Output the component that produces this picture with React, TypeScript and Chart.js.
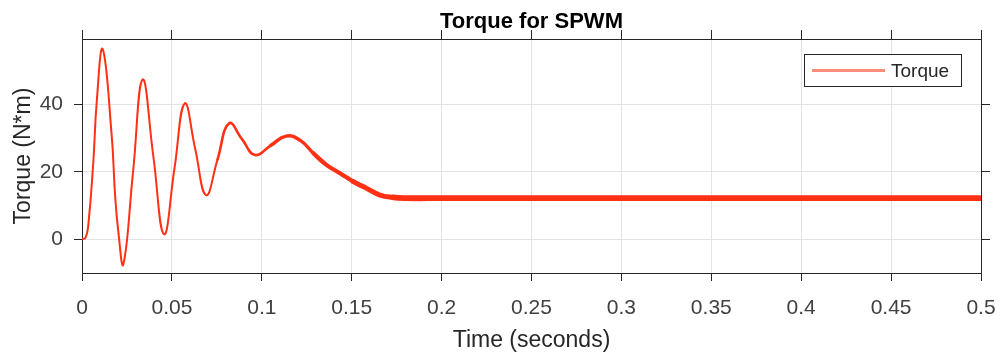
import React, { useEffect, useRef } from 'react';
import { Chart, registerables } from 'chart.js';

Chart.register(...registerables);

// ---- data ----
const timeS: number[] = [
  0, 0.002, 0.0035, 0.0063, 0.0082, 0.0115, 0.0165, 0.0184, 0.0202, 0.023,
  0.0284, 0.0337, 0.0397, 0.0456, 0.0514, 0.0571, 0.063, 0.069, 0.0754, 0.0818,
  0.089, 0.0962, 0.1049, 0.1135, 0.1212, 0.1287, 0.1361, 0.1435, 0.1509, 0.1583,
  0.1657, 0.1731, 0.18, 0.2, 0.25, 0.3, 0.35, 0.4, 0.45, 0.5,
];
const torqueNm: number[] = [
  0, 0.5, 4.2, 23, 40.8, 56.4, 30.9, 13.1, 2.3, -7.4,
  20, 47.4, 24.5, 1.5, 20.9, 40.3, 26.7, 13.1, 23.7, 34.4,
  29.7, 25.0, 27.8, 30.6, 29.4, 25.5, 22.0, 19.6, 17.1, 15.1,
  13.1, 12.4, 12.2, 12.2, 12.2, 12.2, 12.2, 12.2, 12.2, 12.2,
];
const xTicks: number[] = [0, 0.05, 0.1, 0.15, 0.2, 0.25, 0.3, 0.35, 0.4, 0.45, 0.5];
const yTicks: number[] = [0, 20, 40];
const titleText = 'Torque for SPWM';
const xLabel = 'Time (seconds)';
const yLabel = 'Torque (N*m)';
const legendLabel = 'Torque';

const FONT = '"Liberation Sans", Arial, Helvetica, sans-serif';
const AXIS = '#262626';
const GRID = '#e3e3e3';
const LINE = 'rgb(255, 48, 20)';

function widthAt(t: number): number {
  if (t < 0.075) return 2;
  if (t < 0.1) return 2.6;
  if (t < 0.125) return 3.4;
  if (t < 0.15) return 4.2;
  if (t < 0.17) return 5;
  return 5.8;
}

const textPlugin = {
  id: 'textPlugin',
  beforeDraw(chart: any) {
    const c = chart.ctx;
    c.save();
    c.fillStyle = '#ffffff';
    c.fillRect(0, 0, chart.width, chart.height);
    c.restore();
  },
  afterDraw(chart: any) {
    const c = chart.ctx as CanvasRenderingContext2D;
    const a = chart.chartArea;
    const cx = (a.left + a.right) / 2;
    c.save();
    // title
    c.fillStyle = '#000000';
    c.font = `bold 22px ${FONT}`;
    c.textAlign = 'center';
    c.textBaseline = 'alphabetic';
    c.fillText(titleText, cx, 28);
    // x label
    c.fillStyle = AXIS;
    c.font = `23px ${FONT}`;
    c.fillText(xLabel, cx, 347);
    // y label
    c.save();
    c.translate(30, (a.top + a.bottom) / 2);
    c.rotate(-Math.PI / 2);
    c.fillText(yLabel, 0, 0);
    c.restore();
    // legend
    c.fillStyle = '#ffffff';
    c.fillRect(804.5, 54.5, 157, 32);
    c.strokeStyle = AXIS;
    c.lineWidth = 1;
    c.strokeRect(804.5, 54.5, 157, 32);
    c.strokeStyle = 'rgb(255, 140, 120)';
    c.lineWidth = 3;
    c.beginPath();
    c.moveTo(812, 70.5);
    c.lineTo(885, 70.5);
    c.stroke();
    c.fillStyle = AXIS;
    c.font = `19px ${FONT}`;
    c.textAlign = 'left';
    c.fillText(legendLabel, 891, 77);
    c.restore();
  },
};

const fmt = (v: number) => String(Number(v.toFixed(2)));

const noPad = (s: any) => {
  s.paddingLeft = 0;
  s.paddingRight = 0;
  s.paddingTop = 0;
  s.paddingBottom = 0;
};

export default function App() {
  const ref = useRef<HTMLCanvasElement>(null);
  useEffect(() => {
    const canvas = ref.current;
    if (!canvas) return;
    const chart = new Chart(canvas, {
      type: 'line',
      data: {
        datasets: [
          {
            label: legendLabel,
            data: timeS.map((t, i) => ({ x: t, y: torqueNm[i] })),
            borderColor: LINE,
            borderWidth: 2,
            pointRadius: 0,
            fill: false,
            tension: 0.45,
            borderCapStyle: 'round',
            borderJoinStyle: 'round',
            segment: {
              borderWidth: (ctx: any) => widthAt(ctx.p0.parsed.x),
            },
          } as any,
        ],
      },
      options: {
        animation: false,
        responsive: false,
        maintainAspectRatio: false,
        layout: { padding: 0 },
        plugins: {
          legend: { display: false },
          title: { display: false },
          tooltip: { enabled: false },
        },
        scales: {
          x: {
            type: 'linear',
            position: 'bottom',
            min: 0,
            max: 0.5,
            afterBuildTicks: (s: any) => {
              s.ticks = xTicks.map((v) => ({ value: v }));
            },
            afterFit: (s: any) => {
              s.height = 82;
              noPad(s);
            },
            ticks: {
              callback: (v: any) => fmt(Number(v)),
              color: '#404040',
              font: { family: FONT, size: 21 },
              padding: 15,
              maxRotation: 0,
              autoSkip: false,
            },
            grid: { color: GRID, tickColor: AXIS, tickLength: 8, lineWidth: 1 },
            border: { color: AXIS, width: 1 },
          },
          x2: {
            type: 'linear',
            position: 'top',
            min: 0,
            max: 0.5,
            afterBuildTicks: (s: any) => {
              s.ticks = xTicks.map((v) => ({ value: v }));
            },
            afterFit: (s: any) => {
              s.height = 39;
              noPad(s);
            },
            ticks: { display: false },
            grid: { drawOnChartArea: false, tickColor: AXIS, tickLength: 9 },
            border: { color: AXIS, width: 1 },
          },
          y: {
            type: 'linear',
            position: 'left',
            min: -10,
            max: 59.4,
            afterBuildTicks: (s: any) => {
              s.ticks = yTicks.map((v) => ({ value: v }));
            },
            afterFit: (s: any) => {
              s.width = 82;
              noPad(s);
            },
            ticks: {
              callback: (v: any) => fmt(Number(v)),
              color: '#404040',
              font: { family: FONT, size: 21 },
              padding: 11,
            },
            grid: { color: GRID, tickColor: AXIS, tickLength: 8, lineWidth: 1 },
            border: { color: AXIS, width: 1 },
          },
          y2: {
            type: 'linear',
            position: 'right',
            min: -10,
            max: 59.4,
            afterBuildTicks: (s: any) => {
              s.ticks = yTicks.map((v) => ({ value: v }));
            },
            afterFit: (s: any) => {
              s.width = 22;
              noPad(s);
            },
            ticks: { display: false },
            grid: { drawOnChartArea: false, tickColor: AXIS, tickLength: 9 },
            border: { color: AXIS, width: 1 },
          },
        },
      } as any,
      plugins: [textPlugin],
    });
    return () => chart.destroy();
  }, []);
  return (
    <div style={{ position: 'fixed', left: 0, top: 0, width: 1003, height: 355, background: '#fff' }}>
      <canvas ref={ref} width={1003} height={355} style={{ display: 'block', width: 1003, height: 355 }} />
    </div>
  );
}
